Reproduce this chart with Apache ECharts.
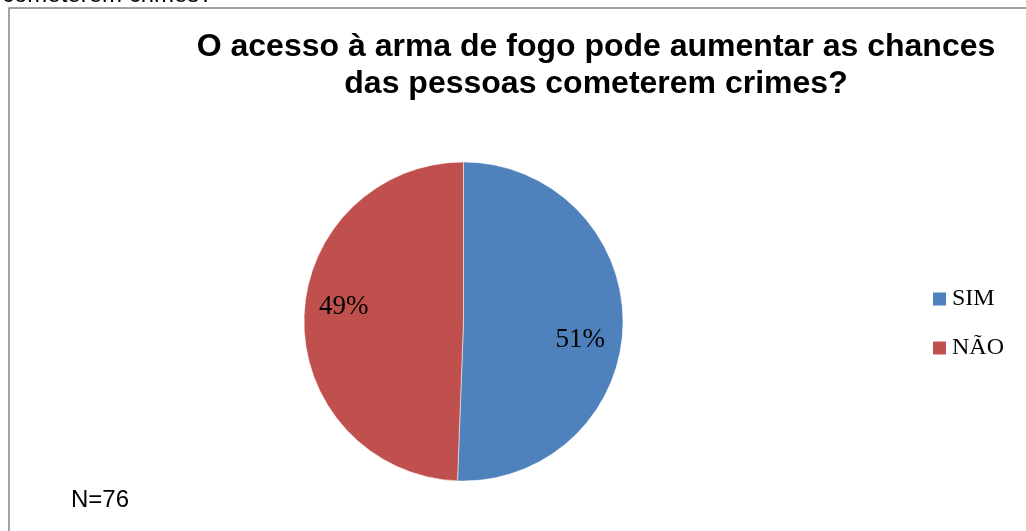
<!DOCTYPE html>
<html><head><meta charset="utf-8">
<script src="https://cdn.jsdelivr.net/npm/echarts@6/dist/echarts.min.js"></script>
<style>html,body{margin:0;padding:0;background:#fff}#c{width:1026px;height:531px}</style>
</head><body><div id="c"></div>
<script>
const categories = ['SIM', 'NÃO'];
const values = [50.6, 49.4];
const colors = ['#4F81BD', '#C0504D'];
const titleText = 'O acesso à arma de fogo pode aumentar as chances\ndas pessoas cometerem crimes?';
const noteText = 'N=76';
const cutText = 'cometerem crimes?';

const chart = echarts.init(document.getElementById('c'));
const labelShift = [[34, 17], [-37, -13]];
chart.setOption({
  animation: false,
  backgroundColor: '#fff',
  title: {
    text: titleText, left: 591, top: 24, textAlign: 'center',
    textStyle: {fontFamily: 'Liberation Sans', fontWeight: 'bold', fontSize: 32, lineHeight: 37, color: '#000'}
  },
  legend: {
    orient: 'vertical', left: 931, top: 287, itemWidth: 15, itemHeight: 15, itemGap: 25,
    icon: 'rect', data: categories, padding: 0,
    textStyle: {fontFamily: 'Liberation Serif', fontSize: 24, lineHeight: 24, color: '#000'}
  },
  graphic: [
    {type: 'rect', shape: {x: 9, y: 8, width: 1040, height: 560}, style: {fill: 'none', stroke: '#868686', lineWidth: 1.5}, z: -1},
    {type: 'text', left: 2, top: -17, style: {text: cutText, font: '24px "Liberation Sans"', fill: '#000'}},
    {type: 'text', left: 71, top: 488, style: {text: noteText, font: '24px "Liberation Sans"', fill: '#000'}}
  ],
  series: [{
    type: 'pie', center: [463.5, 321.5], radius: 159.5, startAngle: 90, clockwise: true,
    itemStyle: {borderColor: '#fff', borderWidth: 0.5},
    label: {
      position: 'inside', fontFamily: 'Liberation Serif', fontSize: 27, color: '#000',
      formatter: p => Math.round(p.percent) + '%'
    },
    labelLayout: p => ({dx: labelShift[p.dataIndex][0], dy: labelShift[p.dataIndex][1]}),
    data: categories.map((n, i) => ({name: n, value: values[i], itemStyle: {color: colors[i]}}))
  }]
});
</script></body></html>
